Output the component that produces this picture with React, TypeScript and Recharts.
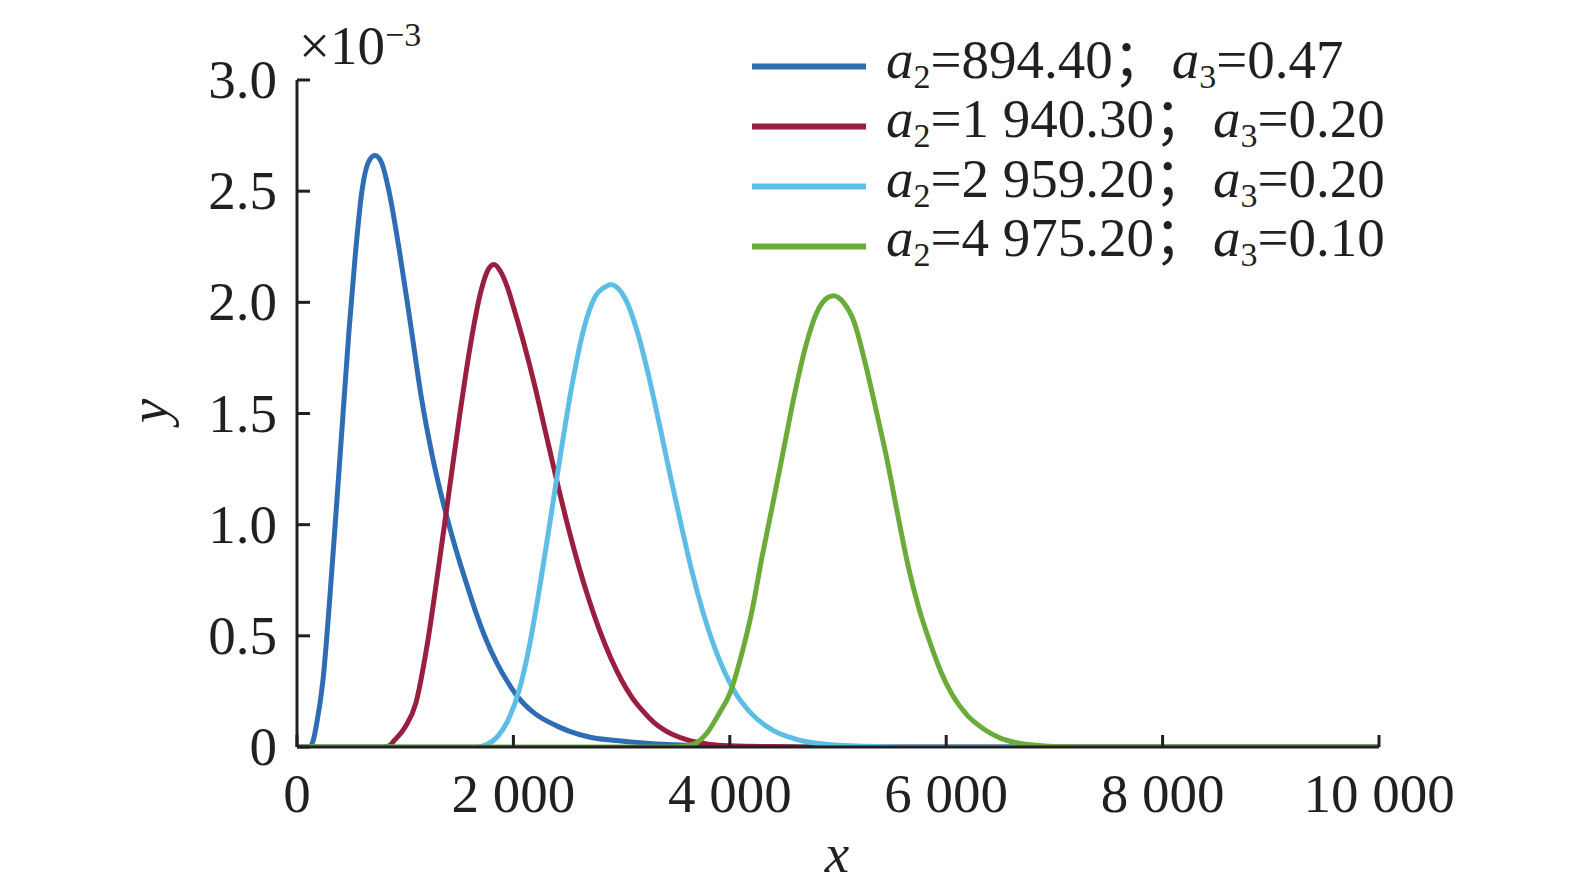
import { LineChart, Line, XAxis, YAxis, Legend } from "recharts";

const FONT = "'Liberation Serif', 'Times New Roman', 'Noto Sans CJK SC', serif";
const INK = "#231f20";

const xTicks = [0, 2000, 4000, 6000, 8000, 10000];
const yTicks = [0, 0.5, 1.0, 1.5, 2.0, 2.5, 3.0];

// y values in units of 1e-3
const blueX = [0, 120, 150, 180, 240, 300, 360, 420, 480, 540, 600, 660, 720, 780, 850, 950, 1050, 1150, 1250, 1350, 1450, 1550, 1650, 1750, 1850, 1950, 2050, 2200, 2400, 2520, 2700, 2920, 3200, 3600, 4000, 4500, 5000, 10000];
const blueY = [0, 0, 0.03, 0.1, 0.3, 0.65, 1.05, 1.46, 1.87, 2.22, 2.5, 2.63, 2.66, 2.63, 2.5, 2.22, 1.9, 1.57, 1.31, 1.1, 0.92, 0.76, 0.61, 0.48, 0.375, 0.29, 0.22, 0.15, 0.095, 0.07, 0.045, 0.03, 0.018, 0.008, 0.004, 0.001, 0, 0];

const redX = [0, 800, 850, 900, 1000, 1100, 1200, 1300, 1400, 1500, 1600, 1700, 1760, 1820, 1880, 1950, 2000, 2100, 2200, 2300, 2400, 2500, 2600, 2700, 2800, 2900, 3000, 3100, 3200, 3300, 3400, 3600, 3800, 4000, 4500, 5000, 10000];
const redY = [0, 0, 0.005, 0.03, 0.09, 0.2, 0.45, 0.78, 1.13, 1.48, 1.8, 2.05, 2.14, 2.17, 2.14, 2.06, 1.98, 1.81, 1.62, 1.41, 1.2, 1.0, 0.82, 0.66, 0.52, 0.4, 0.3, 0.22, 0.16, 0.11, 0.075, 0.033, 0.013, 0.005, 0.001, 0, 0];

const cyanX = [0, 1650, 1750, 1850, 1950, 2050, 2150, 2250, 2350, 2450, 2550, 2650, 2750, 2850, 2900, 2950, 3050, 3150, 3250, 3350, 3450, 3550, 3650, 3750, 3850, 3950, 4050, 4200, 4400, 4600, 4800, 5000, 5500, 6000, 10000];
const cyanY = [0, 0, 0.01, 0.045, 0.12, 0.25, 0.46, 0.74, 1.05, 1.36, 1.65, 1.88, 2.02, 2.07, 2.08, 2.07, 2.0, 1.86, 1.67, 1.45, 1.22, 1.0, 0.79, 0.61, 0.46, 0.34, 0.245, 0.15, 0.075, 0.037, 0.017, 0.008, 0.001, 0, 0];

const greenX = [0, 3500, 3650, 3800, 3900, 4000, 4100, 4200, 4300, 4400, 4500, 4600, 4700, 4800, 4900, 4960, 5050, 5150, 5250, 5350, 5450, 5550, 5650, 5750, 5850, 5950, 6050, 6200, 6350, 6500, 6700, 6900, 7200, 10000];
const greenY = [0, 0, 0.01, 0.07, 0.15, 0.24, 0.4, 0.6, 0.86, 1.1, 1.345, 1.59, 1.8, 1.95, 2.02, 2.03, 2.0, 1.91, 1.73, 1.52, 1.3, 1.05, 0.81, 0.62, 0.47, 0.34, 0.24, 0.14, 0.08, 0.04, 0.015, 0.005, 0, 0];

const a2Labels = ["894.40", "1 940.30", "2 959.20", "4 975.20"];
const a3Labels = ["0.47", "0.20", "0.20", "0.10"];
const colors = ["#2e6db4", "#9a1e40", "#5dbde4", "#6bab3a"];

const toPoints = (xs: number[], ys: number[]) => xs.map((x, i) => ({ x, y: ys[i] }));
const series = [
  toPoints(blueX, blueY),
  toPoints(redX, redY),
  toPoints(cyanX, cyanY),
  toPoints(greenX, greenY),
];

const fmtX = (v: number) => String(v).replace(/\B(?=(\d{3})+(?!\d))/g, " ");
const fmtY = (v: number) => (v === 0 ? "0" : v.toFixed(1));

function XTick({ x, y, payload }: any) {
  return (
    <g>
      <line x1={x} y1={y} x2={x} y2={y - 12} stroke={INK} strokeWidth={3} />
      <text x={x} y={y + 65} textAnchor="middle" fontFamily={FONT} fontSize={55} fill={INK}>
        {fmtX(payload.value)}
      </text>
    </g>
  );
}

function YTick({ x, y, payload }: any) {
  return (
    <g>
      <line x1={x} y1={y} x2={x + 13} y2={y} stroke={INK} strokeWidth={3} />
      <text x={x - 20} y={y + 18} textAnchor="end" fontFamily={FONT} fontSize={55} fill={INK}>
        {fmtY(payload.value)}
      </text>
    </g>
  );
}

// legend drawn in its own svg; coordinates relative to the wrapper at (740, 20)
function LegendBox() {
  return (
    <svg width={720} height={270} style={{ display: "block" }}>
      {colors.map((c, i) => {
        const base = 58 + i * 59.3;
        const lineY = 46.5 + i * 60;
        return (
          <g key={i}>
            <line x1={12} x2={126} y1={lineY} y2={lineY} stroke={c} strokeWidth={6} />
            <text x={146} y={base} fontFamily={FONT} fontSize={55} fill={INK}>
              <tspan fontStyle="italic">a</tspan>
              <tspan fontSize={34} dy={10}>2</tspan>
              <tspan dy={-10}>={a2Labels[i]}；</tspan>
              <tspan fontStyle="italic" dx={4}>a</tspan>
              <tspan fontSize={34} dy={10}>3</tspan>
              <tspan dy={-10}>={a3Labels[i]}</tspan>
            </text>
          </g>
        );
      })}
    </svg>
  );
}

export default function App() {
  return (
    <div style={{ position: "absolute", left: 0, top: 0, width: 1575, height: 893, background: "#fff" }}>
      <LineChart width={1575} height={893} margin={{ top: 80, right: 196, bottom: 46, left: 197 }}>
        <XAxis
          type="number"
          dataKey="x"
          domain={[0, 10000]}
          ticks={xTicks}
          allowDataOverflow
          height={100}
          tickSize={0}
          tickMargin={0}
          tickLine={false}
          axisLine={{ stroke: INK, strokeWidth: 3 }}
          tick={<XTick />}
          interval={0}
        />
        <YAxis
          type="number"
          dataKey="y"
          domain={[0, 3]}
          ticks={yTicks}
          allowDataOverflow
          width={100}
          tickSize={0}
          tickMargin={0}
          tickLine={false}
          axisLine={{ stroke: INK, strokeWidth: 3 }}
          tick={<YTick />}
          interval={0}
        />
        <Legend
          layout="vertical"
          align="center"
          verticalAlign="middle"
          wrapperStyle={{ left: 740, top: 20, width: 720, height: 270 }}
          content={() => <LegendBox />}
        />
        {series.map((d, i) => (
          <Line
            key={i}
            data={d}
            dataKey="y"
            type="monotone"
            stroke={colors[i]}
            strokeWidth={5}
            dot={false}
            activeDot={false}
            isAnimationActive={false}
          />
        ))}
      </LineChart>
      <svg width={1575} height={893} style={{ position: "absolute", left: 0, top: 0, pointerEvents: "none" }}>
        <text x={299} y={64} fontFamily={FONT} fontSize={55} fill={INK}>
          ×10
          <tspan fontSize={34} dy={-18}>−3</tspan>
        </text>
        <text
          transform="translate(167,411) rotate(-90)"
          textAnchor="middle"
          fontFamily={FONT}
          fontStyle="italic"
          fontSize={55}
          fill={INK}
        >
          y
        </text>
        <text x={837} y={872} textAnchor="middle" fontFamily={FONT} fontStyle="italic" fontSize={55} fill={INK}>
          x
        </text>
      </svg>
    </div>
  );
}
